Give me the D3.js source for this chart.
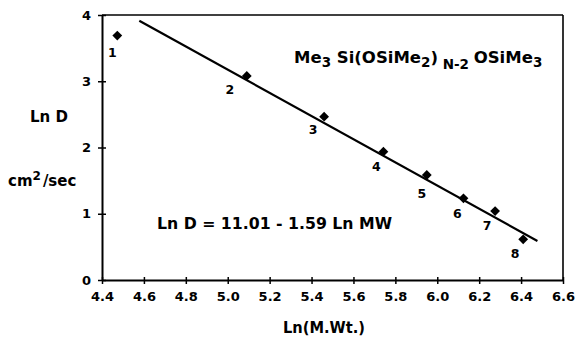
<!DOCTYPE html>
<html>
<head>
<meta charset="utf-8">
<script src="https://cdn.jsdelivr.net/npm/d3@7"></script>
<style>
  body { margin: 0; background: #fff; }
  svg text { font-family: "DejaVu Sans", sans-serif; font-weight: bold; fill: #000; }
</style>
</head>
<body>
<svg id="chart" width="578" height="338"></svg>
<script>
// Siloxane oligomers: diffusion coefficient vs molecular weight
const pointLabels = ["1", "2", "3", "4", "5", "6", "7", "8"];
const lnMW = [4.473, 5.091, 5.46, 5.743, 5.95, 6.125, 6.276, 6.41];
const lnD = [3.69, 3.08, 2.465, 1.937, 1.585, 1.233, 1.04, 0.614];
// fitted line as drawn (end points)
const fitX = [4.578, 6.478];
const fitY = [3.914, 0.589];
const xTicks = [4.4, 4.6, 4.8, 5.0, 5.2, 5.4, 5.6, 5.8, 6.0, 6.2, 6.4, 6.6];
const yTicks = [0, 1, 2, 3, 4];

// label placement relative to each point (px)
const labelOffsets = [[-5, 21], [-17, 18], [-11, 17], [-7, 19], [-5, 23], [-6, 20], [-8, 19], [-8, 19]];

const FONT = "'DejaVu Sans', sans-serif";
const svg = d3.select("#chart");
const x = d3.scaleLinear().domain([4.4, 6.6]).range([102, 563]);
const y = d3.scaleLinear().domain([0, 4]).range([280, 15]);

// frame: top and right
svg.append("line").attr("x1", x(4.4)).attr("x2", x(6.6)).attr("y1", y(4)).attr("y2", y(4))
  .attr("stroke", "#000").attr("stroke-width", 1.6);
svg.append("line").attr("x1", x(6.6)).attr("x2", x(6.6)).attr("y1", y(4)).attr("y2", y(0))
  .attr("stroke", "#000").attr("stroke-width", 1.6);

// x axis
const xAxis = svg.append("g").attr("transform", `translate(0,${y(0)})`)
  .call(d3.axisBottom(x).tickValues(xTicks).tickFormat(d3.format(".1f")).tickSizeInner(4).tickSizeOuter(0).tickPadding(8));
xAxis.select(".domain").attr("stroke-width", 2);
xAxis.selectAll(".tick line").attr("y1", -3).attr("stroke-width", 1.5);
xAxis.selectAll(".tick text").style("font-size", "13px").style("font-family", FONT).style("font-weight", "bold");

// y axis
const yAxis = svg.append("g").attr("transform", `translate(${x(4.4)},0)`)
  .call(d3.axisLeft(y).tickValues(yTicks).tickFormat(d3.format("d")).tickSizeInner(4).tickSizeOuter(0).tickPadding(7));
yAxis.select(".domain").attr("stroke-width", 2);
yAxis.selectAll(".tick line").attr("x1", 4).attr("x2", -4).attr("stroke-width", 1.5);
yAxis.selectAll(".tick text").style("font-size", "13px").style("font-family", FONT).style("font-weight", "bold");

// fitted line
svg.append("line")
  .attr("x1", x(fitX[0])).attr("y1", y(fitY[0]))
  .attr("x2", x(fitX[1])).attr("y2", y(fitY[1]))
  .attr("stroke", "#000").attr("stroke-width", 2.2);

// data points (diamonds)
const diamond = d3.symbol().type(d3.symbolSquare).size(48);
svg.append("g").selectAll("path").data(lnMW).join("path")
  .attr("d", diamond)
  .attr("transform", (d, i) => `translate(${x(d)},${y(lnD[i])}) rotate(45)`)
  .attr("fill", "#000");

// point numbers
svg.append("g").selectAll("text").data(pointLabels).join("text")
  .attr("x", (d, i) => x(lnMW[i]) + labelOffsets[i][0])
  .attr("y", (d, i) => y(lnD[i]) + labelOffsets[i][1])
  .attr("text-anchor", "middle")
  .style("font-size", "12.5px")
  .text(d => d);

// axis titles
svg.append("text").attr("x", 30).attr("y", 122).attr("textLength", 38).attr("lengthAdjust", "spacingAndGlyphs")
  .style("font-size", "15px").text("Ln D");
const unit = svg.append("text").attr("x", 8).attr("y", 186).style("font-size", "15px");
unit.append("tspan").text("cm");
unit.append("tspan").attr("dy", -6).style("font-size", "12px").text("2");
unit.append("tspan").attr("dy", 6).attr("dx", 2).text("/sec");
svg.append("text").attr("x", 283).attr("y", 333).attr("textLength", 82).attr("lengthAdjust", "spacingAndGlyphs")
  .style("font-size", "15px").text("Ln(M.Wt.)");

// compound formula
const f = svg.append("text").attr("x", 294).attr("y", 63).style("font-size", "16.5px");
f.append("tspan").text("Me");
f.append("tspan").attr("dy", 4).style("font-size", "13.5px").text("3");
f.append("tspan").attr("dy", -4).text(" Si(OSiMe");
f.append("tspan").attr("dy", 4).style("font-size", "13.5px").text("2");
f.append("tspan").attr("dy", -4).text(")");
f.append("tspan").attr("dy", 6).style("font-size", "13.5px").text(" N-2 ");
f.append("tspan").attr("dy", -6).text("OSiMe");
f.append("tspan").attr("dy", 4).style("font-size", "13.5px").text("3");

// regression equation
svg.append("text").attr("x", 157).attr("y", 229).attr("textLength", 235).attr("lengthAdjust", "spacingAndGlyphs")
  .style("font-size", "16px").text("Ln D = 11.01 - 1.59 Ln MW");
</script>
</body>
</html>
